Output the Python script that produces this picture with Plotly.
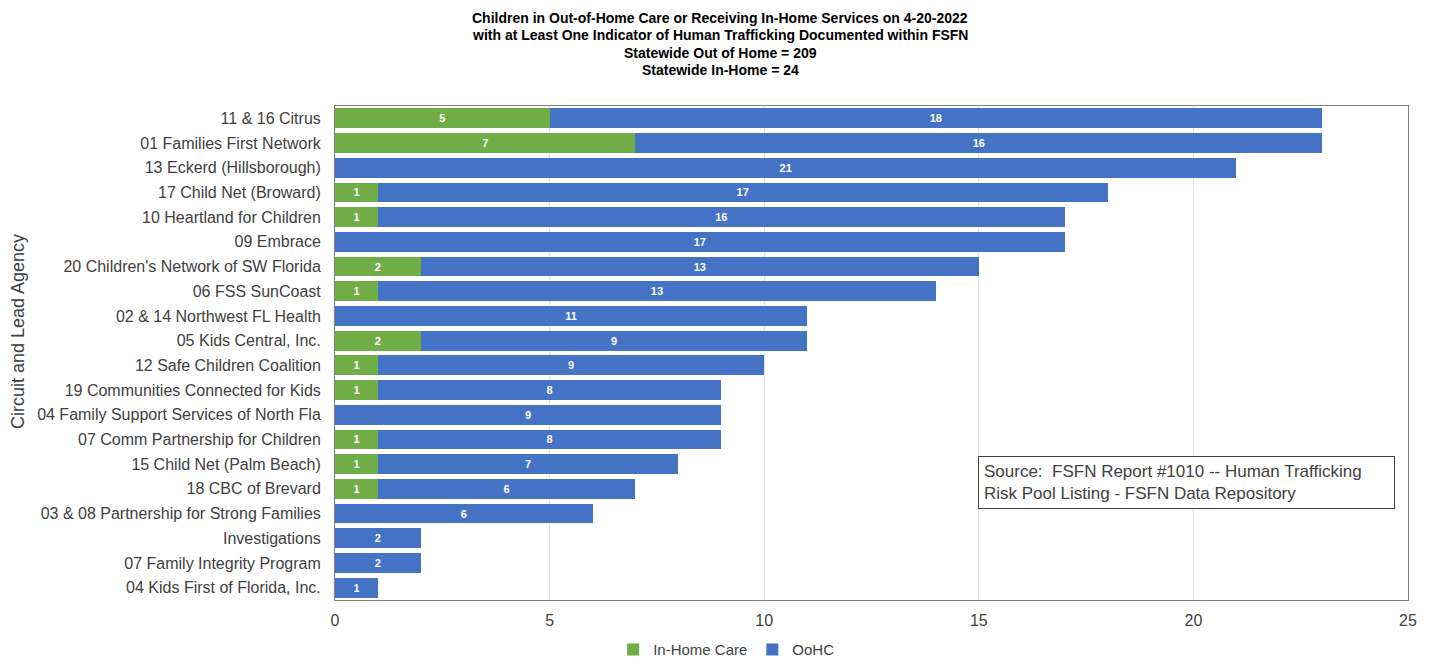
import plotly.graph_objects as go

agencies = [
    "11 & 16 Citrus",
    "01 Families First Network",
    "13 Eckerd (Hillsborough)",
    "17 Child Net (Broward)",
    "10 Heartland for Children",
    "09 Embrace",
    "20 Children's Network of SW Florida",
    "06 FSS SunCoast",
    "02 & 14 Northwest FL Health",
    "05 Kids Central, Inc.",
    "12 Safe Children Coalition",
    "19 Communities Connected for Kids",
    "04 Family Support Services of North Fla",
    "07 Comm Partnership for Children",
    "15 Child Net (Palm Beach)",
    "18 CBC of Brevard",
    "03 & 08 Partnership for Strong Families",
    "Investigations",
    "07 Family Integrity Program",
    "04 Kids First of Florida, Inc.",
]
in_home = [5, 7, 0, 1, 1, 0, 2, 1, 0, 2, 1, 1, 0, 1, 1, 1, 0, 0, 0, 0]
oohc = [18, 16, 21, 17, 16, 17, 13, 13, 11, 9, 9, 8, 9, 8, 7, 6, 6, 2, 2, 1]

x_ticks = [0, 5, 10, 15, 20, 25]

title_lines = [
    "Children in Out-of-Home Care or Receiving In-Home Services on 4-20-2022",
    "with at Least One Indicator of Human Trafficking Documented within FSFN",
    "Statewide Out of Home = 209",
    "Statewide In-Home = 24",
]

FONT = "Liberation Sans"

def lab(v):
    return [str(x) if x else "" for x in v]

fig = go.Figure()
for name, vals, col in [("In-Home Care", in_home, "#70AD47"), ("OoHC", oohc, "#4472C4")]:
    fig.add_trace(go.Bar(
        y=agencies, x=vals, orientation="h", name=name,
        marker=dict(color=col, line=dict(width=0)),
        text=lab(vals), textposition="inside", insidetextanchor="middle",
        textfont=dict(color="white", size=11, family=FONT, weight="bold"),
        textangle=0,
    ))

fig.update_layout(
    barmode="stack",
    bargap=0.2,
    width=1434, height=665,
    margin=dict(l=327, r=34, t=98, b=73, autoexpand=False),
    paper_bgcolor="white", plot_bgcolor="white",
    font=dict(family=FONT, color="#404040", size=16),
    uniformtext=dict(minsize=8, mode="show"),
    showlegend=True,
    legend=dict(orientation="h", xref="paper", x=0.365, xanchor="center",
                yref="container", y=0.035, yanchor="middle",
                font=dict(size=15, color="#404040"), traceorder="normal",
                itemwidth=30),
    xaxis=dict(range=[0, 25], tickvals=x_ticks, showgrid=True, gridcolor="#E3E3E3",
               showline=True, linecolor="#7F7F7F", linewidth=1, mirror=True,
               zeroline=False, ticks="", ticklabelstandoff=6,
               tickfont=dict(size=16, color="#404040")),
    yaxis=dict(autorange="reversed", showline=True, linecolor="#7F7F7F", linewidth=1,
               mirror=True, ticks="", ticklabelstandoff=10,
               tickfont=dict(size=16, color="#404040")),
)

# title lines (positions relative to the 494 px plot area)
title_y = [1.178, 1.143, 1.108, 1.073]
for line, yy in zip(title_lines, title_y):
    fig.add_annotation(
        xref="paper", yref="paper", x=0.359, y=yy, xanchor="center", yanchor="middle",
        text="<b>" + line + "</b>", showarrow=False,
        font=dict(size=14, color="#000000", family=FONT),
    )

# y-axis title
fig.add_annotation(
    xref="paper", yref="paper", x=-0.2954, y=0.5425, xanchor="center", yanchor="middle",
    text="Circuit and Lead Agency", textangle=-90, showarrow=False,
    font=dict(size=18, color="#404040", family=FONT),
)

fig.add_annotation(
    xref="paper", yref="paper", x=0.599, y=0.2915, xanchor="left", yanchor="top",
    text="Source:  FSFN Report #1010 -- Human Trafficking<br>Risk Pool Listing - FSFN Data Repository",
    showarrow=False, align="left", width=405,
    font=dict(size=17, color="#404040", family=FONT),
    bordercolor="#404040", borderwidth=1, borderpad=5, bgcolor="white",
)

fig.write_html("out.html")
